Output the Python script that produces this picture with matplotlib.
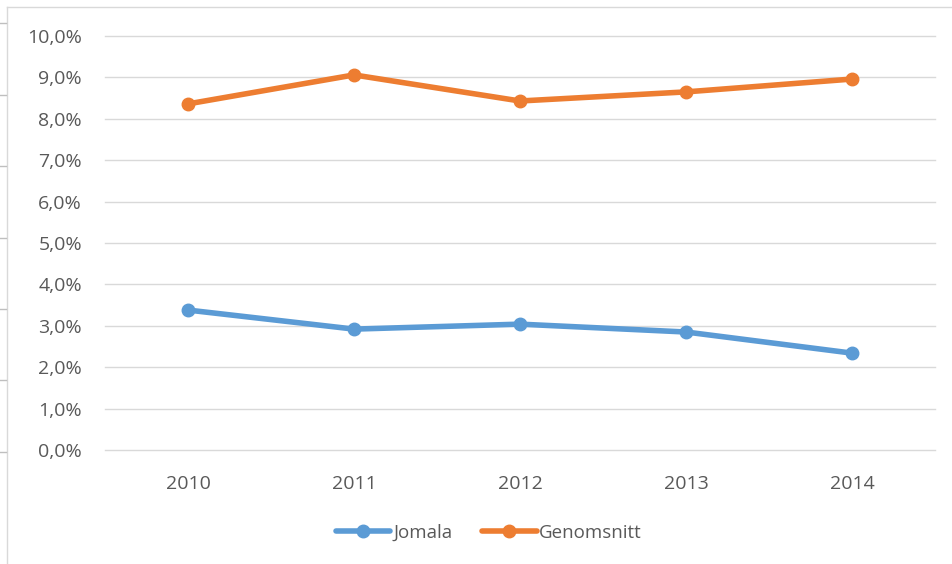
import matplotlib
matplotlib.use("Agg")
import matplotlib.pyplot as plt
from matplotlib.lines import Line2D
from matplotlib.ticker import FuncFormatter

years = ["2010", "2011", "2012", "2013", "2014"]
jomala = [3.38, 2.92, 3.04, 2.85, 2.34]
genomsnitt = [8.36, 9.06, 8.43, 8.65, 8.96]
yticks = [0, 1, 2, 3, 4, 5, 6, 7, 8, 9, 10]

W, H = 953, 564
fig = plt.figure(figsize=(W / 100, H / 100), dpi=100)
plt.rcParams['font.family'] = ['Open Sans', 'DejaVu Sans']

ax = fig.add_axes([105 / W, 1 - 450 / H, (935 - 105) / W, (450 - 36) / H])
x = [i + 0.5 for i in range(len(years))]
blue = "#5b9bd5"
orange = "#ed7d31"
ax.plot(x, jomala, color=blue, lw=4, marker="o", ms=9, label="Jomala", solid_capstyle="round")
ax.plot(x, genomsnitt, color=orange, lw=4, marker="o", ms=9, label="Genomsnitt", solid_capstyle="round")

ax.set_xlim(0, len(years))
ax.set_ylim(0, 10)
ax.set_yticks(yticks)
ax.yaxis.set_major_formatter(FuncFormatter(lambda v, p: f"{v:.1f}%".replace(".", ",")))
ax.set_xticks(x)
ax.set_xticklabels(years)
ax.grid(axis="y", color="#d9d9d9", lw=1)
for gl in ax.get_ygridlines():
    gl.set_clip_on(False)
ax.set_axisbelow(True)
for s in ax.spines.values():
    s.set_visible(False)
ax.tick_params(length=0, labelsize=14, colors="#595959")
ax.tick_params(axis="y", pad=16.5)
ax.tick_params(axis="x", pad=18)

leg = ax.legend(loc="center", bbox_to_anchor=(489 / W, 1 - 533 / H), bbox_transform=fig.transFigure,
                ncol=2, frameon=False, fontsize=13.5, handlelength=2.9, columnspacing=1.6, handletextpad=0.15)
for t in leg.get_texts():
    t.set_color("#595959")

# outer frame artifacts
fig.add_artist(Line2D([6.5 / W, 6.5 / W], [0, 1 - 7 / H], transform=fig.transFigure, color="#d9d9d9", lw=1))
fig.add_artist(Line2D([6.5 / W, 1], [1 - 7 / H, 1 - 7 / H], transform=fig.transFigure, color="#d9d9d9", lw=1))
for yy in [23, 95, 166, 238, 309, 380, 452]:
    fig.add_artist(Line2D([0, 6 / W], [1 - yy / H, 1 - yy / H], transform=fig.transFigure, color="#bfbfbf", lw=1))

fig.savefig("out.png", dpi=100)
